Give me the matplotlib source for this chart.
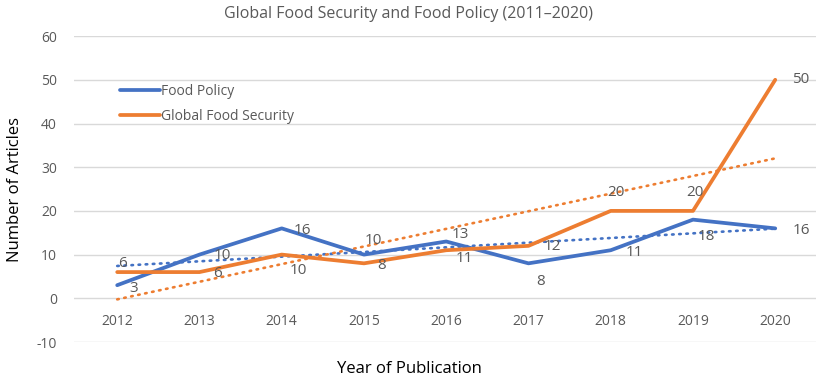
import matplotlib.pyplot as plt
import numpy as np

years = ['2012', '2013', '2014', '2015', '2016', '2017', '2018', '2019', '2020']
food_policy = [3, 10, 16, 10, 13, 8, 11, 18, 16]
global_food_security = [6, 6, 10, 8, 11, 12, 20, 20, 50]

# label offsets in pixels (dx, dy) relative to each point
fp_offsets = [(16, -3), (23, -1), (21, -2), (9, 14), (14, 7), (12, -18), (24, -2), (13, -17), (26, -2)]
gfs_offsets = [(5, 9), (18, -1), (17, -16), (18, -2), (18, -8), (24, -1), (5, 18), (2, 18), (25, 0)]

blue = '#4472C4'
orange = '#ED7D31'
grey = '#595959'

plt.rcParams['font.family'] = ['Open Sans', 'DejaVu Sans']
plt.rcParams['axes.unicode_minus'] = False

fig = plt.figure(figsize=(8.18, 3.8), dpi=100)
ax = fig.add_axes([0.09, 0.1, 0.908, 0.805])

x = np.arange(len(years))
ax.plot(x, food_policy, color=blue, lw=2.7, label='Food Policy', solid_capstyle='round', zorder=3)
ax.plot(x, global_food_security, color=orange, lw=2.7, label='Global Food Security', solid_capstyle='round', zorder=3)

# linear trend lines
for vals, c in [(food_policy, blue), (global_food_security, orange)]:
    k, b = np.polyfit(x, vals, 1)
    ax.plot(x, k * x + b, color=c, lw=1.9, ls=(0, (0.6, 2.1)), dash_capstyle='round', zorder=2)

for vals, offs in [(food_policy, fp_offsets), (global_food_security, gfs_offsets)]:
    for xi, v, (dx, dy) in zip(x, vals, offs):
        ax.annotate(str(v), (xi, v), xytext=(dx, dy), textcoords='offset pixels',
                    ha='center', va='center', fontsize=11, color=grey)

ax.set_xlim(-0.53, 8.5)
ax.set_ylim(-10, 60)
ax.set_yticks(range(-10, 61, 10))
ax.set_xticks(x)
ax.set_xticklabels(years)
ax.spines['bottom'].set_position(('data', 0))
for s in ax.spines.values():
    s.set_visible(False)
ax.grid(axis='y', color='#d9d9d9', lw=1)
ax.set_axisbelow(True)
ax.tick_params(length=0, labelsize=10, labelcolor=grey)
ax.tick_params(axis='x', pad=11)
ax.tick_params(axis='y', pad=12)

fig.text(0.5, 0.963, 'Global Food Security and Food Policy (2011\u20132020)', ha='center', va='center',
         fontsize=11.5, color=grey)
fig.text(0.5, 0.03, 'Year of Publication', ha='center', va='center', fontsize=12, color='black')
fig.text(0.018, 0.5, 'Number of Articles', ha='center', va='center', rotation=90, fontsize=12, color='black')

ax.legend(loc='upper left', bbox_to_anchor=(0.045, 0.885), frameon=False, fontsize=10,
          handlelength=2.9, handletextpad=0.1, labelspacing=0.7, labelcolor=grey)

fig.savefig('out.png', dpi=100)
